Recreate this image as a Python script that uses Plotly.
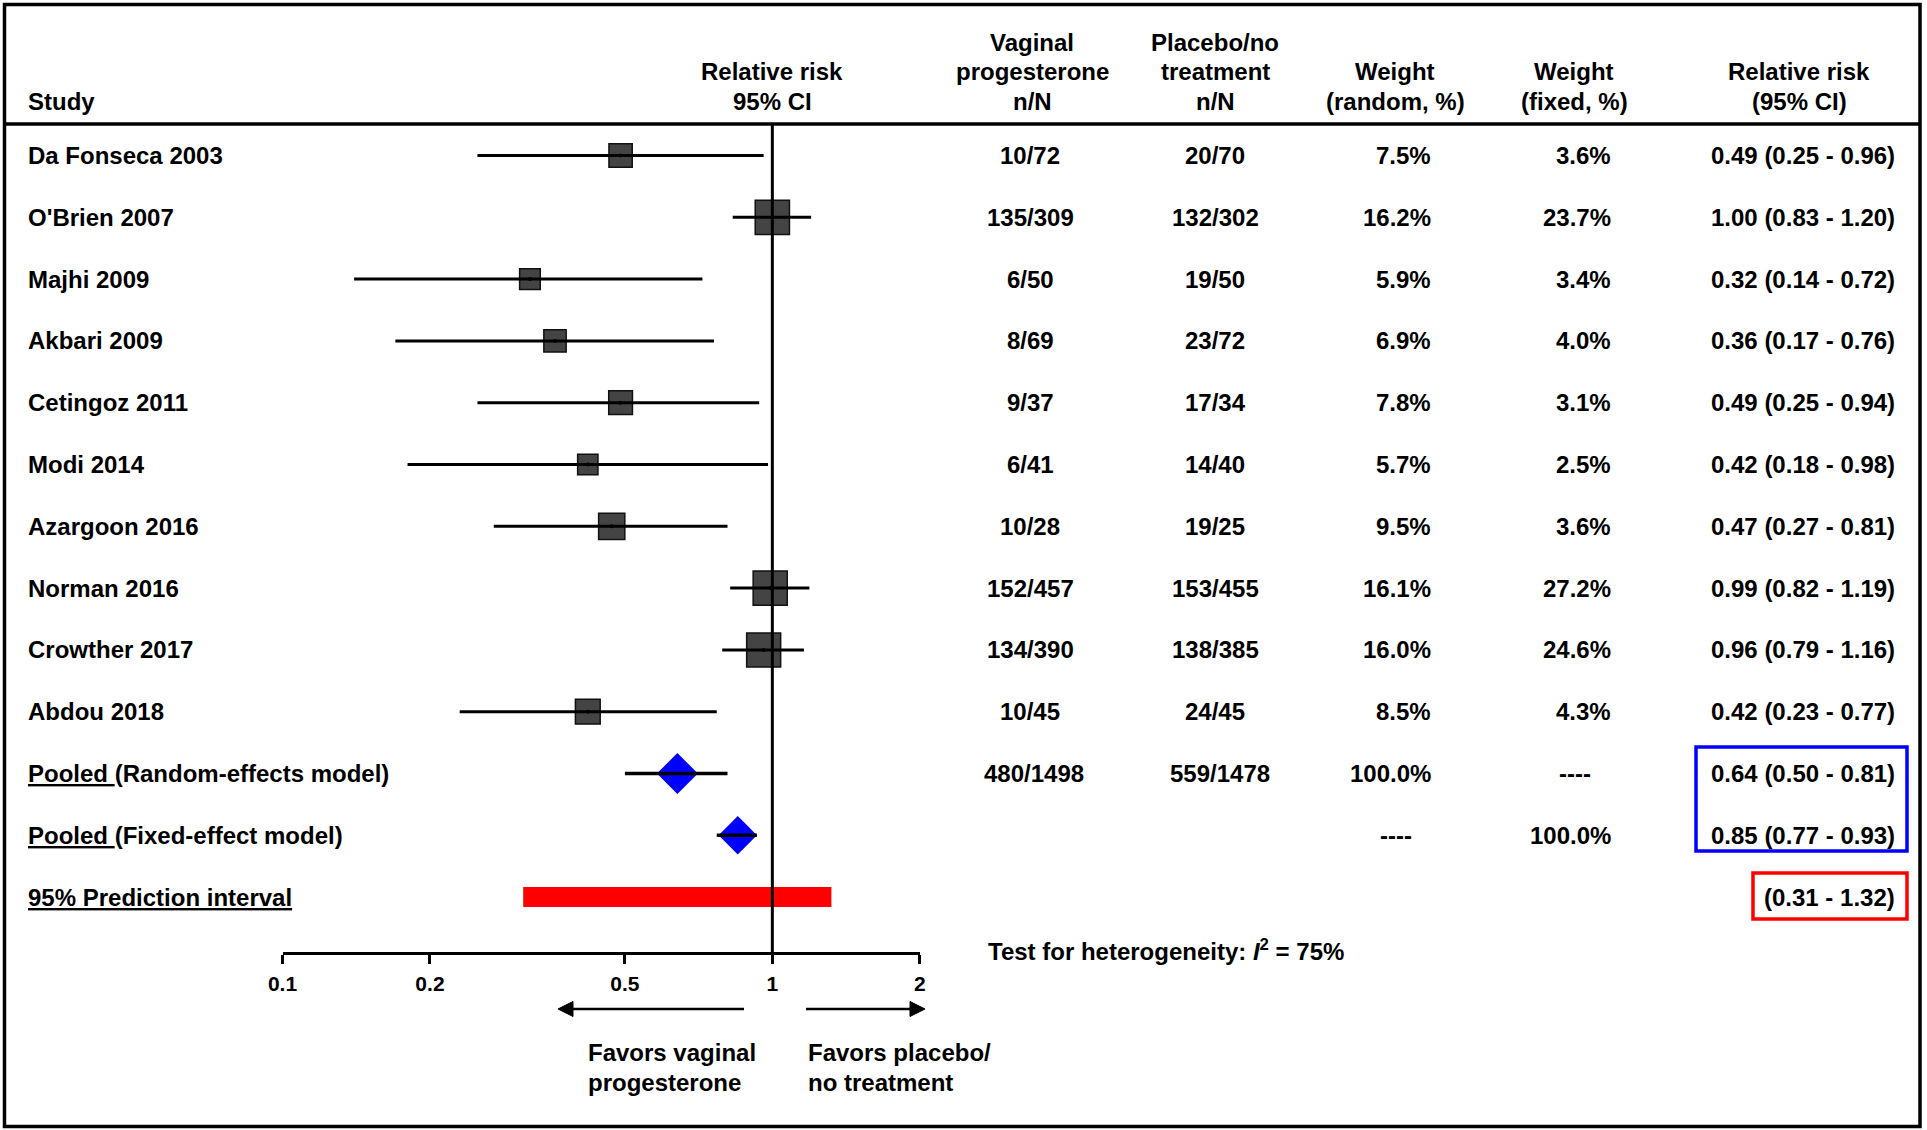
import numpy as np
import plotly.graph_objects as go

W, H = 1927, 1130

# ---------------- data ----------------
studies = ["Da Fonseca 2003", "O'Brien 2007", "Majhi 2009", "Akbari 2009", "Cetingoz 2011",
           "Modi 2014", "Azargoon 2016", "Norman 2016", "Crowther 2017", "Abdou 2018"]
vp_counts = ["10/72", "135/309", "6/50", "8/69", "9/37", "6/41", "10/28", "152/457", "134/390", "10/45"]
pl_counts = ["20/70", "132/302", "19/50", "23/72", "17/34", "14/40", "19/25", "153/455", "138/385", "24/45"]
weight_random = [7.5, 16.2, 5.9, 6.9, 7.8, 5.7, 9.5, 16.1, 16.0, 8.5]
weight_fixed = [3.6, 23.7, 3.4, 4.0, 3.1, 2.5, 3.6, 27.2, 24.6, 4.3]
rr = [0.49, 1.00, 0.32, 0.36, 0.49, 0.42, 0.47, 0.99, 0.96, 0.42]
rr_low = [0.25, 0.83, 0.14, 0.17, 0.25, 0.18, 0.27, 0.82, 0.79, 0.23]
rr_high = [0.96, 1.20, 0.72, 0.76, 0.94, 0.98, 0.81, 1.19, 1.16, 0.77]

pooled_models = ["Random-effects model", "Fixed-effect model"]
pooled_rr = [0.64, 0.85]
pooled_low = [0.50, 0.77]
pooled_high = [0.81, 0.93]
pooled_vp = ["480/1498", ""]
pooled_pl = ["559/1478", ""]
pooled_w_random = ["100.0%", "----"]
pooled_w_fixed = ["----", "100.0%"]

pred_low, pred_high = 0.31, 1.32
i2_percent = 75

tick_vals = [0.1, 0.2, 0.5, 1, 2]
tick_text = ["0.1", "0.2", "0.5", "1", "2"]

# ---------------- layout helpers ----------------
ROW0, STEP = 155.5, 61.8          # pixel centre of first row, row spacing


def ry(py):
    return (py - ROW0) / STEP


def px(x):
    return x / W


def py_(y):
    return 1 - y / H


FONT = "Arial, Liberation Sans, sans-serif"
FS = 24
n = len(studies)
rows = list(range(n))
pooled_rows = [n, n + 1]
pred_row = n + 2

fig = go.Figure()

# prediction interval bar
hh = 10 / STEP
fig.add_trace(go.Scatter(
    x=[pred_low, pred_high, pred_high, pred_low, pred_low],
    y=[pred_row - hh, pred_row - hh, pred_row + hh, pred_row + hh, pred_row - hh],
    fill="toself", fillcolor="#FF0000", mode="lines", line=dict(width=0, color="#FF0000"),
    hoverinfo="skip"))

# study squares
fig.add_trace(go.Scatter(
    x=rr, y=rows, mode="markers",
    marker=dict(symbol="square", size=[8.5 * np.sqrt(w) for w in weight_random], opacity=1,
                color="#444444", line=dict(color="#111111", width=1.5))))

# CI lines
cx, cy = [], []
for lo, hi, r in zip(rr_low, rr_high, rows):
    cx += [lo, hi, None]
    cy += [r, r, None]
fig.add_trace(go.Scatter(x=cx, y=cy, mode="lines", line=dict(color="black", width=3)))

# centre dots
fig.add_trace(go.Scatter(x=rr, y=rows, mode="markers",
                         marker=dict(symbol="circle", size=4, color="black", opacity=1)))

# pooled diamonds
fig.add_trace(go.Scatter(x=pooled_rr, y=pooled_rows, mode="markers",
                         marker=dict(symbol="diamond", size=[31.5, 29.5], color="#0000FF", opacity=1,
                                     line=dict(width=0))))
px_, py2 = [], []
for lo, hi, r in zip(pooled_low, pooled_high, pooled_rows):
    px_ += [lo, hi, None]
    py2 += [r, r, None]
fig.add_trace(go.Scatter(x=px_, y=py2, mode="lines", line=dict(color="black", width=3.5)))

# line of no effect
fig.add_trace(go.Scatter(x=[1, 1], y=[ry(124), ry(953)], mode="lines",
                         line=dict(color="black", width=3)))

# ---------------- annotations ----------------
ann = []


def txt(text, x, y, xanchor="left", yref="y", size=FS):
    ann.append(dict(text=text, x=px(x), xref="paper", y=y, yref=yref, xanchor=xanchor,
                    yanchor="middle", showarrow=False,
                    font=dict(family=FONT, size=size, color="black", weight="bold")))


# headers (listed bottom line last)
headers = [
    (["Study"], 26, "left"),
    (["Relative risk", "95% CI"], 772, "center"),
    (["Vaginal", "progesterone", "n/N"], 1032, "center"),
    (["Placebo/no", "treatment", "n/N"], 1215, "center"),
    (["Weight", "(random, %)"], 1395, "center"),
    (["Weight", "(fixed, %)"], 1574, "center"),
    (["Relative risk", "(95% CI)"], 1799, "center"),
]
for lines, x, anc in headers:
    k = len(lines)
    for j, line in enumerate(lines):
        ypix = 101 - (k - 1 - j) * 29.5
        txt(line, x, py_(ypix), anc, yref="paper")

# study rows
for i in rows:
    txt(studies[i], 26, i)
    txt(vp_counts[i], 1030, i, "center")
    txt(pl_counts[i], 1215, i, "center")
    txt(f"{weight_random[i]:.1f}%", 1433, i, "right")
    txt(f"{weight_fixed[i]:.1f}%", 1613, i, "right")
    txt(f"{rr[i]:.2f} ({rr_low[i]:.2f} - {rr_high[i]:.2f})", 1897, i, "right")

# pooled rows
for k, r in enumerate(pooled_rows):
    txt(f"<u>Pooled </u>({pooled_models[k]})", 26, r)
    if pooled_vp[k]:
        txt(pooled_vp[k], 1034, r, "center")
    if pooled_pl[k]:
        txt(pooled_pl[k], 1220, r, "center")
    wr = pooled_w_random[k]
    txt(wr, 1433 if wr != "----" else 1396, r, "right" if wr != "----" else "center")
    wf = pooled_w_fixed[k]
    txt(wf, 1613 if wf != "----" else 1575, r, "right" if wf != "----" else "center")
    txt(f"{pooled_rr[k]:.2f} ({pooled_low[k]:.2f} - {pooled_high[k]:.2f})", 1897, r, "right")

# prediction interval row
txt("<u>95% Prediction interval</u>", 26, pred_row)
txt(f"({pred_low:.2f} - {pred_high:.2f})", 1897, pred_row, "right")

# heterogeneity
txt(f"Test for heterogeneity: <i>I</i><sup>2</sup> = {i2_percent}%", 986, py_(950), yref="paper")

# favours labels
txt("Favors vaginal", 586, py_(1052), yref="paper")
txt("progesterone", 586, py_(1082), yref="paper")
txt("Favors placebo/", 806, py_(1052), yref="paper")
txt("no treatment", 806, py_(1082), yref="paper")

# ---------------- shapes ----------------
shapes = [
    dict(type="rect", xref="paper", yref="paper", x0=px(4.5), x1=px(1920), y0=py_(4.5), y1=py_(1126.5),
         line=dict(color="black", width=3.5)),
    dict(type="line", xref="paper", yref="paper", x0=px(4.5), x1=px(1920), y0=py_(124), y1=py_(124),
         line=dict(color="black", width=3.5)),
    dict(type="rect", xref="paper", yref="paper", x0=px(1696), x1=px(1907), y0=py_(747), y1=py_(851),
         line=dict(color="#0000FF", width=3.5)),
    dict(type="rect", xref="paper", yref="paper", x0=px(1753), x1=px(1907), y0=py_(873), y1=py_(919),
         line=dict(color="#FF0000", width=3.5)),
]

# direction arrows (line + filled triangular head)
AY = 1009
for tail, tip in [(744, 558), (806, 925)]:
    sgn = 1 if tip > tail else -1
    base = tip - sgn * 15
    shapes.append(dict(type="line", xref="paper", yref="paper", x0=px(tail), x1=px(base),
                       y0=py_(AY), y1=py_(AY), line=dict(color="black", width=2.5)))
    path = (f"M {px(tip)} {py_(AY)} L {px(base)} {py_(AY - 7.5)} "
            f"L {px(base)} {py_(AY + 7.5)} Z")
    shapes.append(dict(type="path", xref="paper", yref="paper", path=path,
                       fillcolor="black", line=dict(color="black", width=1)))

fig.update_layout(
    width=W, height=H, margin=dict(l=0, r=0, t=0, b=0, pad=0, autoexpand=False),
    paper_bgcolor="white", plot_bgcolor="rgba(0,0,0,0)",
    showlegend=False,
    annotations=ann, shapes=shapes,
    xaxis=dict(type="log", domain=[282.5 / W, 919.8 / W], range=[-1, np.log10(2)],
               anchor="free", position=py_(953),
               showgrid=False, zeroline=False, showline=True, linecolor="black", linewidth=3,
               ticks="outside", ticklen=9, tickwidth=2.5, tickcolor="black",
               tickvals=tick_vals, ticktext=tick_text, ticklabelstandoff=2,
               tickfont=dict(family=FONT, size=21, color="black", weight="bold")),
    yaxis=dict(domain=[0, 1], range=[(H - ROW0) / STEP, -ROW0 / STEP], visible=False,
               showgrid=False, zeroline=False),
)

fig.write_html("out.html", post_script="document.body.style.margin='0';",
               config={"displayModeBar": False})
